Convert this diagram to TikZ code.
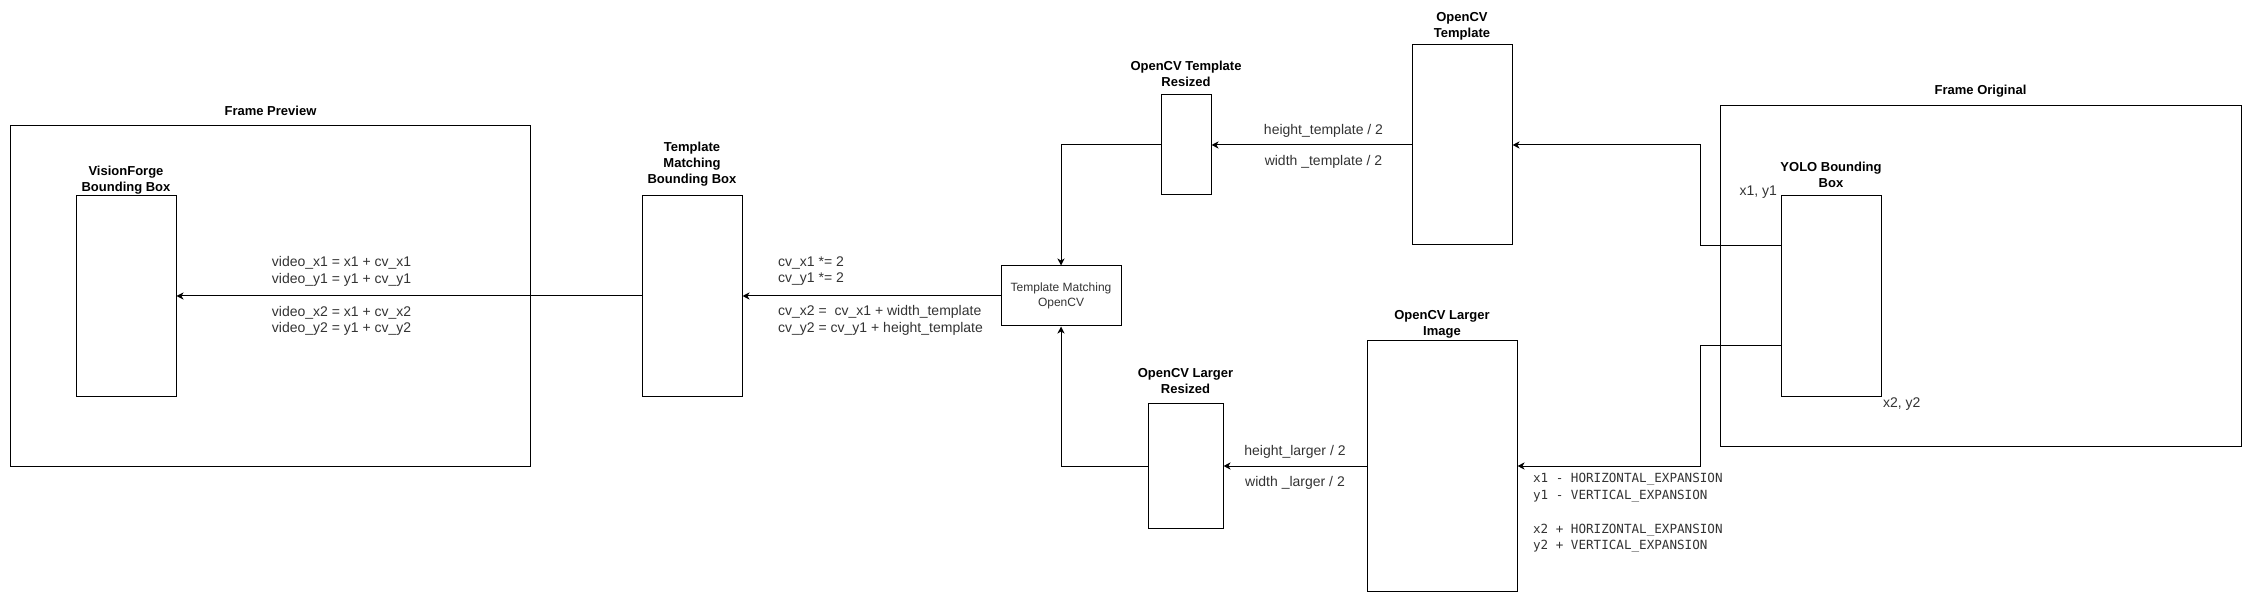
\documentclass[tikz,border=0pt]{standalone}
\usepackage{fontspec}
\setmainfont{Liberation Sans}
\setmonofont{DejaVu Sans Mono}
\usepackage{xcolor}
\usepackage{tikz}
\usetikzlibrary{positioning, arrows.meta}
\definecolor{labelgray}{HTML}{333333}
\tikzset{
	>={Stealth[length=7pt, width=7pt, inset=2pt]}, % arrow heads
	box/.style={draw, rectangle, inner sep=0pt}, % every image / bounding box
	title/.style={font=\fontsize{13}{16}\selectfont\bfseries, align=center, inner sep=0pt, text depth=0pt}, % box captions
	formula/.style={font=\fontsize{14}{16.5}\selectfont, text=labelgray, align=left, inner sep=0pt}, % texts on the arrows
	monotext/.style={font=\ttfamily\fontsize{12.6}{16.5}\selectfont, text=labelgray, align=left, inner sep=0pt},
}

\begin{document}
\begin{tikzpicture}[x=1pt, y=-1pt, line width=1pt]
		\useasboundingbox (0,0) rectangle (2251,601);
		
		% Frames
		\node[box, minimum width=520pt, minimum height=340pt] (preview) at (270.5,296) {};
		\node[box, minimum width=521pt, minimum height=340pt] (original) at (1980.5,276) {};
		
		% Boxes
		\node[box, minimum width=100pt, minimum height=200pt] (vfbox) at (126,296) {};
		\node[box, minimum width=100pt, minimum height=200pt] (tmbb) at (692,296) {};
		\node[box, minimum width=120pt, minimum height=60pt, font=\fontsize{12}{15}\selectfont, text=labelgray, align=center] (tmcv) at (1061,296) {Template Matching\\OpenCV};
		\node[box, minimum width=50pt, minimum height=100pt] (tres) at (1186,145) {};
		\node[box, minimum width=100pt, minimum height=200pt] (otpl) at (1462,145) {};
		\node[box, minimum width=75pt, minimum height=125pt] (olres) at (1185.5,466) {};
		\node[box, minimum width=150pt, minimum height=250pt] (olimg) at (1442,466) {};
		\node[box, minimum width=100pt, minimum height=200pt] (yolo) at (1831,296) {};
		
		% Captions
		\node[title, above=9.5pt of preview] (tpreview) {Frame Preview};
		\node[title, above=10.5pt of original] (toriginal) {Frame Original};
		\node[title, above=3.5pt of vfbox] (tvfbox) {VisionForge\\Bounding Box};
		\node[title, above=11.5pt of tmbb] (ttmbb) {Template\\Matching\\Bounding Box};
		\node[title, above=7.5pt of tres] (ttres) {OpenCV Template\\Resized};
		\node[title, above=6.5pt of otpl] (totpl) {OpenCV\\Template};
		\node[title, above=9.5pt of olres] (tolres) {OpenCV Larger\\Resized};
		\node[title, above=4.5pt of olimg] (tolimg) {OpenCV Larger\\Image};
		\node[title, above=7.5pt of yolo] (tyolo) {YOLO Bounding\\Box};
		\node[formula, anchor=base east] (corner1) at ([xshift=-3pt]yolo.north west) {x1, y1};
		\node[formula, anchor=north west, inner sep=1pt] (corner2) at (yolo.south east) {x2, y2};
		
		% Crops out of the original frame
		\draw[->] ([yshift=50pt]yolo.west) -- ++(-80,0) |- (otpl.east);
		\draw[->] ([yshift=-50pt]yolo.west) -- ++(-80,0) |- (olimg.east);
		\node[monotext, anchor=north west] (expansion) at ([xshift=15pt,yshift=-7pt]olimg.east)
			{x1 - HORIZONTAL\_EXPANSION\\y1 - VERTICAL\_EXPANSION\\[17.5pt]x2 + HORIZONTAL\_EXPANSION\\y2 + VERTICAL\_EXPANSION};
		
		% Resizing and matching
		\path[->]
		(otpl) edge node[formula, pos=0.44, above=7pt] {height\_template / 2}
		              node[formula, pos=0.44, below=10pt] {width \_template / 2} (tres)
		(olimg) edge node[formula, above=7pt] {height\_larger / 2}
		               node[formula, below=10pt] {width \_larger / 2} (olres)
		(tmcv) edge node[formula, pos=0.465] {cv\_x1 *= 2\\cv\_y1 *= 2\\[16.5pt]cv\_x2 =\ \ cv\_x1 + width\_template\\cv\_y2 = cv\_y1 + height\_template} (tmbb)
		(tmbb) edge node[formula, pos=0.645] {video\_x1 = x1 + cv\_x1\\video\_y1 = y1 + cv\_y1\\[16.5pt]video\_x2 = x1 + cv\_x2\\video\_y2 = y1 + cv\_y2} (vfbox);
		\draw[->] (tres.west) -| (tmcv.north);
		\draw[->] (olres.west) -| (tmcv.south);
		
	\end{tikzpicture}
\end{document}
